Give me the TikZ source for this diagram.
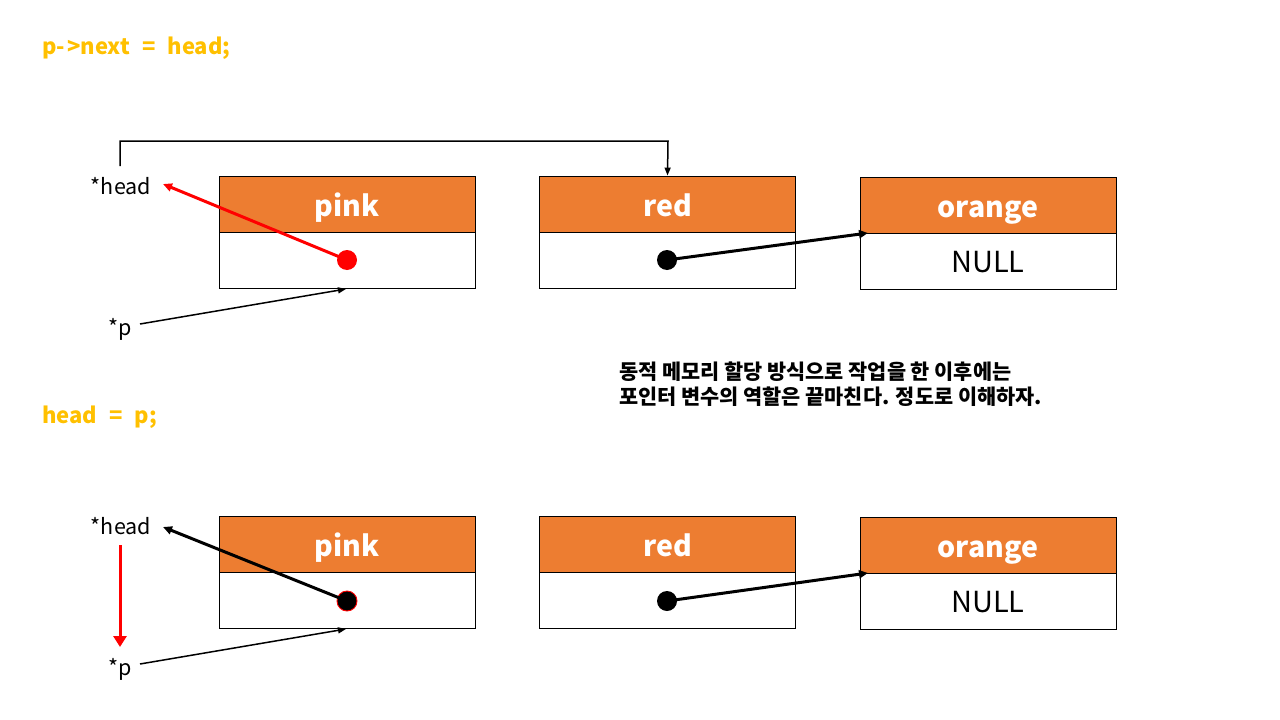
\documentclass[tikz,border=0pt]{standalone}
\usepackage{fontspec}
\setmainfont{Noto Sans CJK KR}
\usetikzlibrary{arrows.meta}
\definecolor{hdr}{HTML}{ED7D31}
\definecolor{ttl}{HTML}{FFC000}
\tikzset{
  hdrbox/.style={draw=black, line width=0.9pt, fill=hdr, minimum width=256pt, minimum height=56pt, inner sep=0pt},
  bodybox/.style={draw=black, line width=0.9pt, fill=white, minimum width=256pt, minimum height=56pt, inner sep=0pt},
  hdrtxt/.style={anchor=base, inner sep=0pt, text=white, font=\fontsize{28.5}{30}\selectfont\bfseries},
  nulltxt/.style={anchor=base, inner sep=0pt, font=\fontsize{29}{30}\selectfont},
  ttlfont/.style={text=ttl, font=\fontsize{22}{24}\selectfont\bfseries, anchor=base west, inner sep=0pt},
  lbl/.style={font=\fontsize{21.5}{22}\selectfont, inner sep=0pt, anchor=base},
  ptr/.style={-{Triangle[length=9pt,width=8pt]}, line width=3pt},
  thinptr/.style={-{Triangle[length=8pt,width=6pt]}, line width=1.5pt},
  dotb/.style={circle, fill=black, minimum size=20pt, inner sep=0pt},
  dotr/.style={circle, fill=red, minimum size=20pt, inner sep=0pt},
}
\newcommand{\wsp}{\hspace{0.55em}}
\begin{document}
\begin{tikzpicture}[x=1pt,y=-1pt]
\useasboundingbox (0,0) rectangle (1280,720);
% titles
\node[ttlfont] (t1) at (42,54) {p-\hspace{0.1em}>next\wsp=\wsp head;};
\node[ttlfont] (t2) at (42,423) {head\wsp=\wsp p;};
% ---------- top row ----------
\node[hdrbox] (ph1) at (347,204) {};
\node[hdrtxt] (ph1t) at (347,216) {pink};
\node[bodybox] (pb1) at (347,260) {};
\node[hdrbox] (rh1) at (667.5,204) {};
\node[hdrtxt] (rh1t) at (667.5,216) {red};
\node[bodybox] (rb1) at (667.5,260) {};
\node[hdrbox] (oh1) at (988,205) {};
\node[hdrtxt] (oh1t) at (988,217) {orange};
\node[bodybox] (ob1) at (988,261) {};
\node[nulltxt] (ob1t) at (988,272) {NULL};
\node[lbl] (head1) at (121,194) {*head};
\node[lbl] (p1) at (120,335) {*p};
\coordinate (b1) at (120,166);
\draw[line width=1.5pt, -{Triangle[length=8pt,width=6pt]}] (b1) |- (668,141) -- (rh1.north);
\node[dotr] (d1) at (347,260) {};
\draw[ptr, red] (d1.center) -- (163,184);
\node[dotb] (d2) at (667,260) {};
\draw[ptr] (d2.center) -- (868,233);
\draw[thinptr] (140,324) -- (346,289);
% Korean note
\node[font=\fontsize{20.8}{25}\selectfont\bfseries, align=left, anchor=base west, inner sep=0pt] (note) at (619,404) {동적 메모리 할당 방식으로 작업을 한 이후에는\\포인터 변수의 역할은 끝마친다. 정도로 이해하자.};
% ---------- bottom row ----------
\node[hdrbox] (ph2) at (347,544) {};
\node[hdrtxt] (ph2t) at (347,556) {pink};
\node[bodybox] (pb2) at (347,600) {};
\node[hdrbox] (rh2) at (667.5,544) {};
\node[hdrtxt] (rh2t) at (667.5,556) {red};
\node[bodybox] (rb2) at (667.5,600) {};
\node[hdrbox] (oh2) at (988,545) {};
\node[hdrtxt] (oh2t) at (988,557) {orange};
\node[bodybox] (ob2) at (988,601) {};
\node[nulltxt] (ob2t) at (988,612) {NULL};
\node[lbl] (head2) at (121,534) {*head};
\node[lbl] (p2) at (120,675) {*p};
\node[dotb, draw=red, line width=0.9pt] (d3) at (347,601) {};
\draw[ptr] (d3.center) -- (163,527);
\node[dotb] (d4) at (667,601) {};
\draw[ptr] (d4.center) -- (868,573);
\draw[thinptr] (140,664) -- (346,629);
\draw[red, line width=3pt, -{Triangle[length=11pt,width=13pt]}] (120,545) -- (120,647);
\end{tikzpicture}
\end{document}
